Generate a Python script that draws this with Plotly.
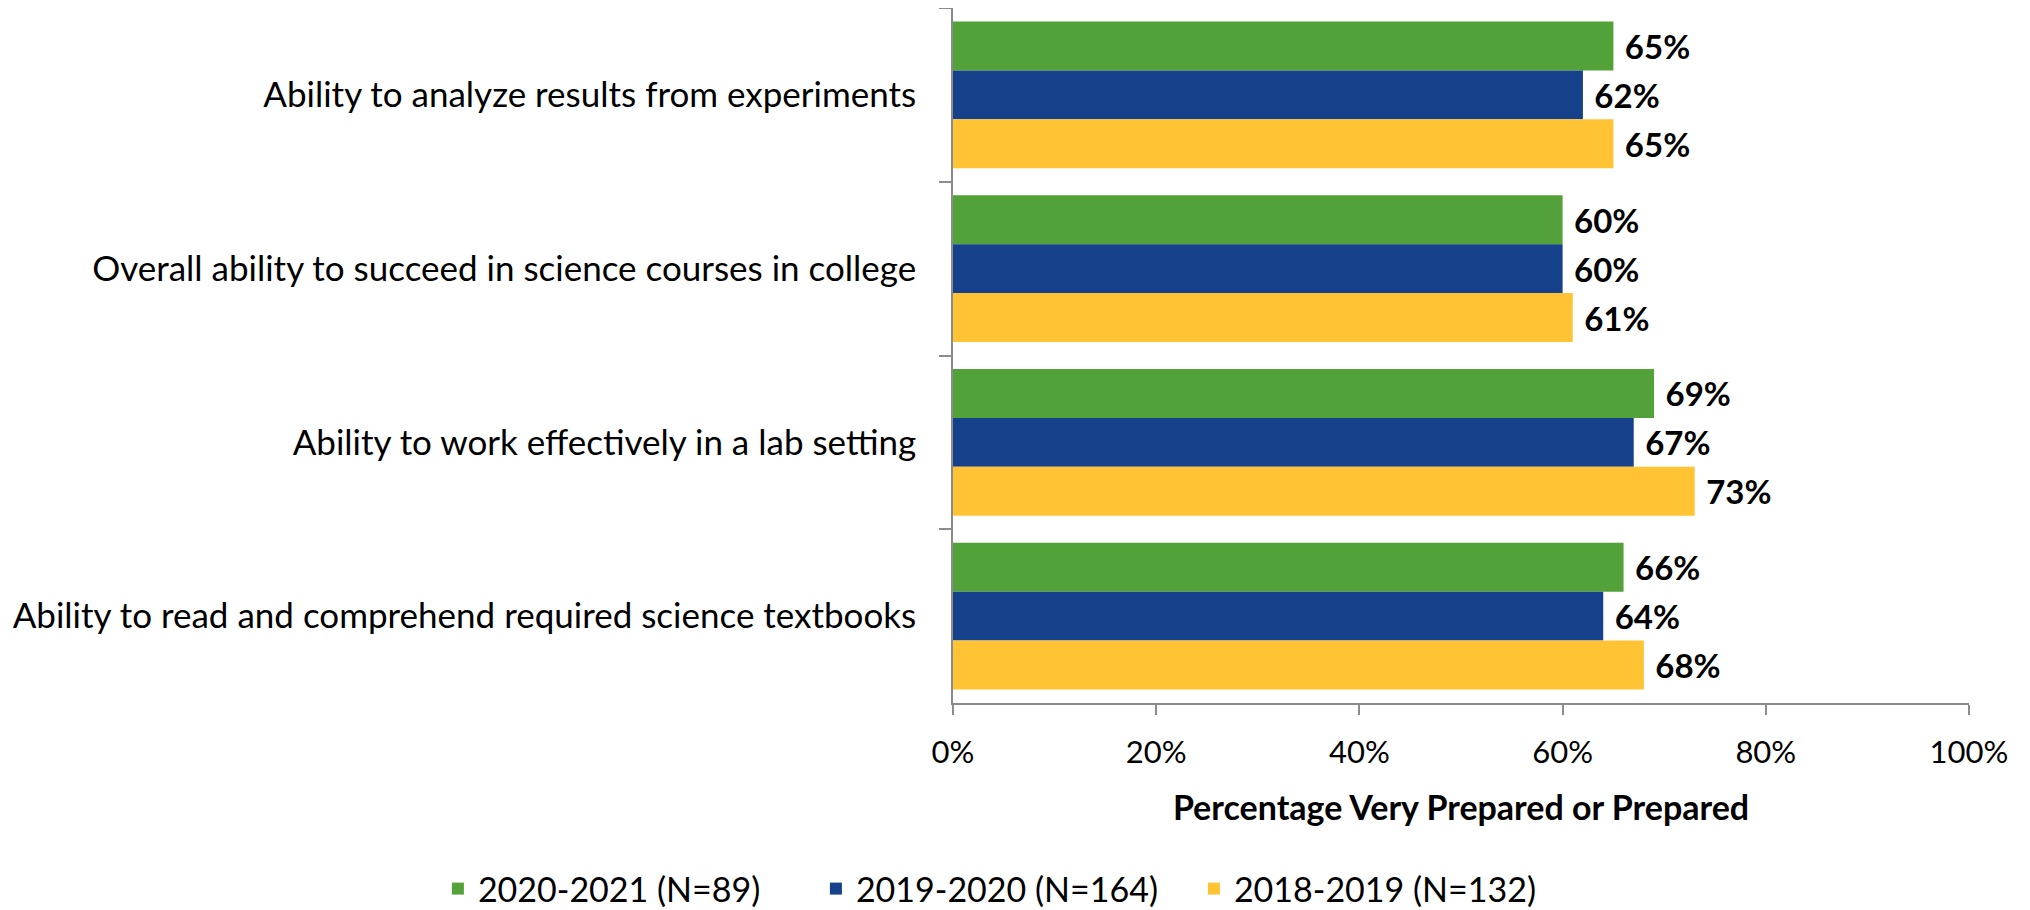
import plotly.graph_objects as go

categories = [
    "Ability to analyze results from experiments",
    "Overall ability to succeed in science courses in college",
    "Ability to work effectively in a lab setting",
    "Ability to read and comprehend required science textbooks",
]
series_names = ["2020-2021 (N=89)", "2019-2020 (N=164)", "2018-2019 (N=132)"]
values_2020_2021 = [65, 60, 69, 66]
values_2019_2020 = [62, 60, 67, 64]
values_2018_2019 = [65, 61, 73, 68]
colors = ["#53A139", "#14418A", "#FFC333"]
x_ticks = [0, 20, 40, 60, 80, 100]
x_tick_labels = ["0%", "20%", "40%", "60%", "80%", "100%"]

FONT = "Lato, 'Open Sans', sans-serif"
NB = "\u00a0"

fig = go.Figure()
for name, vals, col in zip(series_names,
                           [values_2020_2021, values_2019_2020, values_2018_2019],
                           colors):
    fig.add_trace(go.Bar(
        y=categories, x=vals, name=name, orientation="h",
        marker=dict(color=col, line=dict(width=0)),
        text=[f"{NB}<b>{v}%</b>" for v in vals],
        textposition="outside",
        textfont=dict(family=FONT, size=33, color="#000000"),
        cliponaxis=False,
    ))

fig.update_layout(
    width=2030, height=910,
    barmode="group", bargap=0.155, bargroupgap=0,
    plot_bgcolor="white", paper_bgcolor="white",
    margin=dict(l=945, r=69, t=0, b=212),
    font=dict(family=FONT, color="#000000"),
    showlegend=True,
    legend=dict(orientation="h",
                x=-0.507, xanchor="left", y=-0.268, yanchor="middle",
                font=dict(family=FONT, size=34), traceorder="normal",
                itemwidth=30, entrywidth=333, entrywidthmode="pixels"),
    xaxis=dict(
        range=[0, 100], tickvals=x_ticks, ticktext=x_tick_labels,
        showgrid=False, zeroline=False, showline=True, linecolor="#8C8C8C", linewidth=1.5,
        ticks="outside", ticklen=10, tickcolor="#8C8C8C", tickwidth=1.5,
        tickfont=dict(family=FONT, size=31), ticklabelstandoff=11,
        title=dict(text="<b>Percentage Very Prepared or Prepared</b>",
                   font=dict(family=FONT, size=34), standoff=27),
    ),
    yaxis=dict(
        autorange="reversed", type="category",
        showgrid=False, zeroline=False, showline=True, linecolor="#8C8C8C", linewidth=1.5,
        ticks="outside", ticklen=12, tickcolor="#8C8C8C", tickwidth=1.5,
        tickson="boundaries",
        tickfont=dict(family=FONT, size=35), ticklabelstandoff=28,
    ),
)

fig.write_html("out.html")
